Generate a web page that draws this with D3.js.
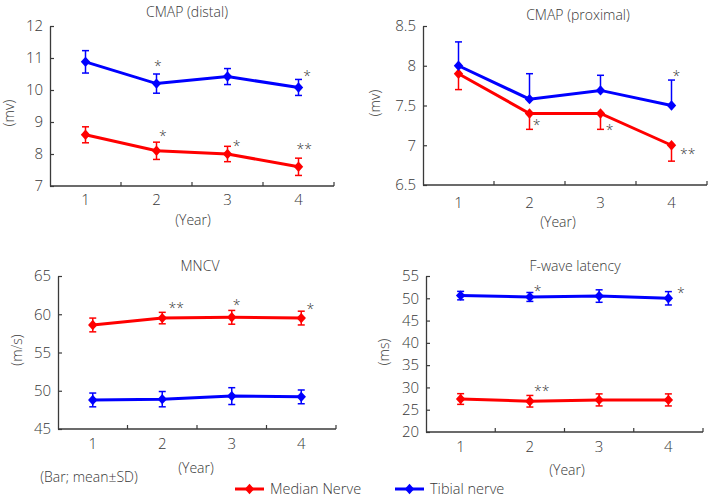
<!DOCTYPE html>
<html><head><meta charset="utf-8">
<script src="https://cdn.jsdelivr.net/npm/d3@7"></script>
<style>
html,body{margin:0;padding:0;background:#fff;}
svg text{font-family:"Open Sans",sans-serif;font-weight:300;fill:#383838;}
</style></head>
<body><svg id="chart" width="709" height="499"></svg>
<script>
// ---------- data ----------
const xLabels = ["1", "2", "3", "4"];
const seriesNames = ["Median Nerve", "Tibial nerve"];
const seriesColors = ["#ff0000", "#0000ff"];

// CMAP (distal)
const distalMedianMean = [8.6, 8.1, 8.0, 7.6];
const distalMedianSD   = [0.25, 0.27, 0.24, 0.27];
const distalTibialMean = [10.88, 10.2, 10.42, 10.08];
const distalTibialSD   = [0.35, 0.3, 0.25, 0.25];
const distalTicks = [7, 8, 9, 10, 11, 12];
const distalStars = [
  {s: 1, x: 2.02, y: 10.84, t: "*"},
  {s: 1, x: 4.12, y: 10.53, t: "*"},
  {s: 0, x: 2.09, y: 8.66, t: "*"},
  {s: 0, x: 3.13, y: 8.34, t: "*"},
  {s: 0, x: 4.08, y: 8.25, t: "**"}
];

// CMAP (proximal)
const proxMedianMean = [7.9, 7.4, 7.4, 7.0];
const proxMedianSD   = [0.2, 0.2, 0.2, 0.2];
const proxTibialMean = [8.0, 7.58, 7.69, 7.5];
const proxTibialSD   = [0.3, 0.32, 0.19, 0.32];
const proxTicks = [6.5, 7, 7.5, 8, 8.5];
const proxStars = [
  {s: 1, x: 4.07, y: 7.91, t: "*"},
  {s: 0, x: 2.10, y: 7.29, t: "*"},
  {s: 0, x: 3.13, y: 7.23, t: "*"},
  {s: 0, x: 4.23, y: 6.93, t: "**"}
];

// MNCV
const mncvMedianMean = [58.6, 59.5, 59.6, 59.5];
const mncvMedianSD   = [0.9, 0.75, 0.9, 0.9];
const mncvTibialMean = [48.8, 48.9, 49.3, 49.2];
const mncvTibialSD   = [0.9, 1.0, 1.1, 0.9];
const mncvTicks = [45, 50, 55, 60, 65];
const mncvStars = [
  {s: 0, x: 2.20, y: 61.2, t: "**"},
  {s: 0, x: 3.07, y: 61.64, t: "*"},
  {s: 0, x: 4.13, y: 61.1, t: "*"}
];

// F-wave latency
const fwMedianMean = [27.4, 26.9, 27.2, 27.2];
const fwMedianSD   = [1.2, 1.3, 1.35, 1.35];
const fwTibialMean = [50.6, 50.3, 50.5, 50.0];
const fwTibialSD   = [0.95, 1.0, 1.4, 1.5];
const fwTicks = [20, 25, 30, 35, 40, 45, 50, 55];
const fwStars = [
  {s: 1, x: 2.11, y: 52.2, t: "*"},
  {s: 1, x: 4.18, y: 51.85, t: "*"},
  {s: 0, x: 2.17, y: 29.8, t: "**"}
];

// ---------- panel definitions ----------
const panels = [
  {title: "CMAP (distal)", unit: "(mv)", ticks: distalTicks,
   mean: [distalMedianMean, distalTibialMean], sd: [distalMedianSD, distalTibialSD],
   errDir: ["both", "both"], stars: distalStars,
   box: {x0: 50, x1: 334, yTop: 26, yBot: 186}, titlePos: [187, 17], unitPos: [13.5, 113],
   yearPos: [193, 225], xLabY: 205},
  {title: "CMAP (proximal)", unit: "(mv)", ticks: proxTicks,
   mean: [proxMedianMean, proxTibialMean], sd: [proxMedianSD, proxTibialSD],
   errDir: ["down", "up"], stars: proxStars,
   box: {x0: 423, x1: 707, yTop: 26, yBot: 185}, titlePos: [578, 20], unitPos: [380, 103],
   yearPos: [558, 227], xLabY: 208},
  {title: "MNCV", unit: "(m/s)", ticks: mncvTicks,
   mean: [mncvMedianMean, mncvTibialMean], sd: [mncvMedianSD, mncvTibialSD],
   errDir: ["both", "both"], stars: mncvStars,
   box: {x0: 58, x1: 336, yTop: 276, yBot: 429}, titlePos: [200, 271], unitPos: [22, 350],
   yearPos: [196, 473], xLabY: 449},
  {title: "F-wave latency", unit: "(ms)", ticks: fwTicks,
   mean: [fwMedianMean, fwTibialMean], sd: [fwMedianSD, fwTibialSD],
   errDir: ["both", "both"], stars: fwStars,
   box: {x0: 426, x1: 703, yTop: 276, yBot: 432}, titlePos: [575, 271], unitPos: [389, 352],
   yearPos: [567, 475], xLabY: 452}
];

const svg = d3.select("#chart");
const axisColor = "#3a3a3a";
const diamond = "M0,-5.2L4.7,0L0,5.2L-4.7,0Z";

panels.forEach(p => {
  const b = p.box;
  const g = svg.append("g");
  const x = d3.scaleBand().domain(xLabels).range([b.x0, b.x1]).paddingInner(0).paddingOuter(0);
  const xc = d => x(d) + x.bandwidth() / 2;
  const xLin = d3.scaleLinear().domain([1, 4]).range([xc(xLabels[0]), xc(xLabels[3])]);
  const y = d3.scaleLinear().domain([p.ticks[0], p.ticks[p.ticks.length - 1]]).range([b.yBot, b.yTop]);

  // y axis
  const yAxis = g.append("g").attr("transform", `translate(${b.x0},0)`)
    .call(d3.axisLeft(y).tickValues(p.ticks).tickSizeInner(-4).tickSizeOuter(0).tickPadding(7).tickFormat(d => String(d)));
  yAxis.select(".domain").attr("stroke", axisColor).attr("stroke-width", 1.3);
  yAxis.selectAll(".tick line").attr("stroke", axisColor).attr("stroke-width", 1.2);
  yAxis.selectAll(".tick text").style("font-size", "15px").attr("fill", "#383838")
    .style("font-family", "'Open Sans',sans-serif").style("font-weight", 300);

  // x axis: line + ticks at band boundaries
  const bounds = xLabels.slice(1).map(d => x(d)).concat([b.x1]);
  g.append("line").attr("x1", b.x0).attr("x2", b.x1).attr("y1", b.yBot).attr("y2", b.yBot)
    .attr("stroke", axisColor).attr("stroke-width", 1.3);
  g.selectAll(".xt").data(bounds).enter().append("line")
    .attr("x1", d => d).attr("x2", d => d).attr("y1", b.yBot).attr("y2", b.yBot - 4)
    .attr("stroke", axisColor).attr("stroke-width", 1.2);
  g.selectAll(".xl").data(xLabels).enter().append("text")
    .attr("x", d => xc(d)).attr("y", p.xLabY).attr("text-anchor", "middle")
    .style("font-size", "15px").text(d => d);

  // labels
  g.append("text").attr("x", p.titlePos[0]).attr("y", p.titlePos[1]).attr("text-anchor", "middle")
    .style("font-size", "14px").text(p.title);
  g.append("text").attr("transform", `translate(${p.unitPos[0]},${p.unitPos[1]}) rotate(-90)`)
    .attr("text-anchor", "middle").style("font-size", "14px").text(p.unit);
  g.append("text").attr("x", p.yearPos[0]).attr("y", p.yearPos[1]).attr("text-anchor", "middle")
    .style("font-size", "14px").text("(Year)");

  // series
  [0, 1].forEach(si => {
    const col = seriesColors[si];
    const m = p.mean[si], sd = p.sd[si], dir = p.errDir[si];
    const pts = xLabels.map((c, i) => ({c, v: m[i], sd: sd[i]}));
    const eg = g.append("g");
    pts.forEach(d => {
      const hi = dir === "down" ? d.v : d.v + d.sd;
      const lo = dir === "up" ? d.v : d.v - d.sd;
      const cx = xc(d.c);
      eg.append("line").attr("x1", cx).attr("x2", cx).attr("y1", y(hi)).attr("y2", y(lo))
        .attr("stroke", col).attr("stroke-width", 1.5);
      if (dir !== "down")
        eg.append("line").attr("x1", cx - 3.5).attr("x2", cx + 3.5).attr("y1", y(hi)).attr("y2", y(hi))
          .attr("stroke", col).attr("stroke-width", 1.5);
      if (dir !== "up")
        eg.append("line").attr("x1", cx - 3.5).attr("x2", cx + 3.5).attr("y1", y(lo)).attr("y2", y(lo))
          .attr("stroke", col).attr("stroke-width", 1.5);
    });
    g.append("path").datum(pts)
      .attr("d", d3.line().x(d => xc(d.c)).y(d => y(d.v)))
      .attr("fill", "none").attr("stroke", col).attr("stroke-width", 3);
    g.selectAll(null).data(pts).enter().append("path")
      .attr("d", diamond).attr("transform", d => `translate(${xc(d.c)},${y(d.v)})`)
      .attr("fill", col);
  });

  // significance markers
  g.selectAll(".star").data(p.stars).enter().append("text")
    .attr("x", d => xLin(d.x)).attr("y", d => y(d.y) + 8)
    .attr("text-anchor", "middle").style("font-size", "14px").attr("fill", "#555")
    .text(d => d.t);
});

// footnote
svg.append("text").attr("x", 89).attr("y", 482).attr("text-anchor", "middle")
  .style("font-size", "14px").text("(Bar; mean\u00b1SD)");

// legend
const legendItems = [{x: 235, name: seriesNames[0], col: seriesColors[0]},
                     {x: 395, name: seriesNames[1], col: seriesColors[1]}];
const lg = svg.append("g");
legendItems.forEach(it => {
  lg.append("line").attr("x1", it.x).attr("x2", it.x + 29).attr("y1", 489).attr("y2", 489)
    .attr("stroke", it.col).attr("stroke-width", 3);
  lg.append("path").attr("d", diamond).attr("transform", `translate(${it.x + 14.5},489)`).attr("fill", it.col);
  lg.append("text").attr("x", it.x + 35).attr("y", 494).style("font-size", "14.5px").text(it.name);
});
</script></body></html>
